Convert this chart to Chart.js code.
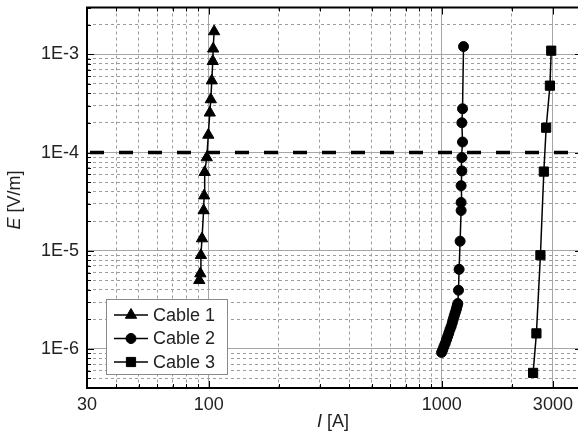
<!DOCTYPE html>
<html>
<head>
<meta charset="utf-8">
<script src="https://cdn.jsdelivr.net/npm/chart.js@4/dist/chart.umd.min.js"></script>
<style>
  html, body { margin: 0; padding: 0; background: #fff; overflow: hidden; }
  canvas { display: block; }
</style>
</head>
<body>
<canvas id="chart" width="594" height="434"></canvas>
<script>
// values: current I [A], field E [V/m]
const cable1Current = [91, 92, 92.5, 93.5, 95, 95.5, 96, 98, 99.5, 101, 102, 103, 104, 104.4, 105.4];
const cable1Field = [5.0e-6, 5.85e-6, 9.0e-6, 1.33e-5, 2.57e-5, 3.64e-5, 6.3e-5, 8.9e-5, 1.51e-4, 2.54e-4, 3.47e-4, 5.4e-4, 8.5e-4, 1.14e-3, 1.71e-3];

const cable2Current = [998, 1010, 1022, 1035, 1048, 1060, 1072, 1085, 1098, 1110, 1120, 1130, 1140, 1150, 1158, 1165, 1172,
  1180, 1187, 1199, 1211, 1211, 1211, 1220, 1220, 1228, 1220, 1228, 1240];
const cable2Field = [0.92e-6, 0.98e-6, 1.06e-6, 1.14e-6, 1.24e-6, 1.34e-6, 1.45e-6, 1.58e-6, 1.7e-6, 1.85e-6, 2.0e-6, 2.15e-6, 2.3e-6, 2.45e-6, 2.6e-6, 2.75e-6, 2.9e-6,
  3.96e-6, 6.46e-6, 1.25e-5, 2.57e-5, 3.1e-5, 4.6e-5, 6.5e-5, 8.9e-5, 1.28e-4, 2.01e-4, 2.79e-4, 1.2e-3];

const cable3Current = [2467, 2549, 2652, 2743, 2807, 2913, 2951];
const cable3Field = [5.7e-7, 1.44e-6, 9.0e-6, 6.4e-5, 1.79e-4, 4.8e-4, 1.09e-3];

const criterionCurrent = [30, 4000];
const criterionField = [1e-4, 1e-4];

const seriesNames = ["Cable 1", "Cable 2", "Cable 3"];
const seriesMarkers = ["triangle", "circle", "rect"];

const xTicks = [30, 100, 1000, 3000];
const xTickLabels = ["30", "100", "1000", "3000"];
const yTicks = [1e-6, 1e-5, 1e-4, 1e-3];
const yTickLabels = ["1E-6", "1E-5", "1E-4", "1E-3"];

const FONT = "'Liberation Sans', Arial, sans-serif";
const TEXT = "#222";

const toPoints = (xs, ys) => xs.map((x, i) => ({ x: x, y: ys[i] }));

function findTick(value, list) {
    return list.findIndex((t) => Math.abs(t - value) / t < 1e-6);
}

// 1..9 x 10^n steps, used for the grid
function logSteps(min, max) {
    const out = [];
    for (let e = Math.floor(Math.log10(min)); e <= Math.ceil(Math.log10(max)); e++) {
        for (let m = 1; m <= 9; m++) {
            const v = m * Math.pow(10, e);
            if (v >= min * 0.999 && v <= max * 1.001) {
                out.push({ value: v });
            }
        }
    }
    return out;
}

function gridColor(list) {
    return (ctx) => (ctx.tick && findTick(ctx.tick.value, list) >= 0 ? "#a6a6a6" : "#9c9c9c");
}

function gridDash(list) {
    return (ctx) => (ctx.tick && findTick(ctx.tick.value, list) >= 0 ? [] : [3, 3]);
}

const series = [
    [cable1Current, cable1Field],
    [cable2Current, cable2Field],
    [cable3Current, cable3Field],
];

const datasets = series.map((s, i) => ({
    label: seriesNames[i],
    data: toPoints(s[0], s[1]),
    showLine: true,
    borderColor: "#000",
    borderWidth: 1.5,
    backgroundColor: "#000",
    pointStyle: seriesMarkers[i],
    pointRadius: seriesMarkers[i] === "circle" ? 5 : 6.5,
    pointBackgroundColor: "#000",
    pointBorderColor: "#000",
    pointBorderWidth: 1,
    tension: 0,
}));

datasets.push({
    label: "criterion",
    data: toPoints(criterionCurrent, criterionField),
    showLine: true,
    borderColor: "#000",
    borderWidth: 3.5,
    borderDash: [14, 15],
    borderDashOffset: 26,
    pointRadius: 0,
    tension: 0,
});

const framePlugin = {
    id: "frame",
    afterDraw(chart) {
        const { ctx, chartArea: a, scales } = chart;
        const xs = scales.x;
        const ys = scales.y;
        ctx.save();

        // inward tick marks on all four sides
        ctx.strokeStyle = "#000";
        ctx.lineWidth = 1;
        ctx.beginPath();
        xs.ticks.forEach((t) => {
            const px = Math.round(xs.getPixelForValue(t.value)) + 0.5;
            const len = findTick(t.value, xTicks) >= 0 ? 7 : 4;
            ctx.moveTo(px, a.bottom);
            ctx.lineTo(px, a.bottom - len);
            ctx.moveTo(px, a.top);
            ctx.lineTo(px, a.top + len);
        });
        ys.ticks.forEach((t) => {
            const py = Math.round(ys.getPixelForValue(t.value)) + 0.5;
            const len = findTick(t.value, yTicks) >= 0 ? 7 : 4;
            ctx.moveTo(a.left, py);
            ctx.lineTo(a.left + len, py);
            ctx.moveTo(a.right, py);
            ctx.lineTo(a.right - len, py);
        });
        ctx.stroke();

        // frame
        ctx.lineWidth = 2;
        ctx.strokeRect(a.left, a.top, a.right - a.left, a.bottom - a.top);

        // legend box
        const lx = a.left + 19;
        const ly = a.bottom - 89;
        ctx.fillStyle = "#fff";
        ctx.fillRect(lx, ly, 121, 75);
        ctx.strokeStyle = "#8a8a8a";
        ctx.lineWidth = 1;
        ctx.strokeRect(lx + 0.5, ly + 0.5, 121, 75);
        ctx.font = "18px " + FONT;
        ctx.textBaseline = "middle";
        ctx.textAlign = "left";
        seriesNames.forEach((name, i) => {
            const cy = ly + 16 + i * 23.5;
            const ds = datasets[i];
            ctx.strokeStyle = "#000";
            ctx.lineWidth = 1.5;
            ctx.beginPath();
            ctx.moveTo(lx + 8, cy);
            ctx.lineTo(lx + 42, cy);
            ctx.stroke();
            ctx.fillStyle = "#000";
            ctx.lineWidth = 1;
            Chart.helpers.drawPoint(ctx, {
                pointStyle: ds.pointStyle,
                radius: ds.pointRadius,
                rotation: 0,
                borderWidth: 1,
            }, lx + 25, cy);
            ctx.fillStyle = TEXT;
            ctx.fillText(name, lx + 47, cy + 1);
        });

        // axis titles with italic symbols
        const drawTitle = (x, y, sym, rest, rot) => {
            ctx.save();
            ctx.translate(x, y);
            ctx.rotate(rot);
            ctx.fillStyle = TEXT;
            ctx.textBaseline = "middle";
            ctx.font = "italic 18px " + FONT;
            const w1 = ctx.measureText(sym).width;
            ctx.font = "18px " + FONT;
            const w2 = ctx.measureText(rest).width;
            const x0 = -(w1 + w2) / 2;
            ctx.font = "italic 18px " + FONT;
            ctx.fillText(sym, x0, 0);
            ctx.font = "18px " + FONT;
            ctx.fillText(rest, x0 + w1, 0);
            ctx.restore();
        };
        drawTitle(333, 422, "I", " [A]", 0);
        drawTitle(15, 200, "E", " [V/m]", -Math.PI / 2);

        ctx.restore();
    },
};

new Chart(document.getElementById("chart"), {
    type: "scatter",
    data: { datasets: datasets },
    plugins: [framePlugin],
    options: {
        responsive: false,
        animation: false,
        devicePixelRatio: 1,
        layout: { padding: { top: 7, right: 12, left: 0, bottom: 0 } },
        plugins: {
            legend: { display: false },
            tooltip: { enabled: false },
        },
        scales: {
            x: {
                type: "logarithmic",
                min: 30,
                max: 4000,
                afterBuildTicks: (scale) => { scale.ticks = logSteps(scale.min, scale.max); },
                afterFit: (scale) => {
                    scale.height = 46;
                    scale.paddingLeft = 0;
                    scale.paddingRight = 0;
                },
                ticks: {
                    autoSkip: false,
                    maxRotation: 0,
                    padding: 6,
                    color: TEXT,
                    font: { family: FONT, size: 18 },
                    callback: (value) => {
                        const i = findTick(value, xTicks);
                        return i >= 0 ? xTickLabels[i] : "";
                    },
                },
                grid: { drawTicks: false, color: gridColor(xTicks), lineWidth: 1 },
                border: { display: false, dash: gridDash(xTicks) },
            },
            y: {
                type: "logarithmic",
                min: 4e-7,
                max: 3e-3,
                afterBuildTicks: (scale) => { scale.ticks = logSteps(scale.min, scale.max); },
                afterFit: (scale) => {
                    scale.width = 87;
                    scale.paddingTop = 0;
                    scale.paddingBottom = 0;
                },
                ticks: {
                    autoSkip: false,
                    padding: 8,
                    color: TEXT,
                    font: { family: FONT, size: 18 },
                    callback: (value) => {
                        const i = findTick(value, yTicks);
                        return i >= 0 ? yTickLabels[i] : "";
                    },
                },
                grid: { drawTicks: false, color: gridColor(yTicks), lineWidth: 1 },
                border: { display: false, dash: gridDash(yTicks) },
            },
        },
    },
});
</script>
</body>
</html>
